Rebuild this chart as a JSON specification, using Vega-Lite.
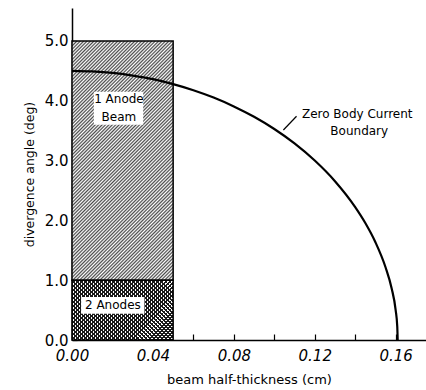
{
"$schema":"https://vega.github.io/schema/vega-lite/v6.json",
"width":354,"height":332,"autosize":"none",
"padding":{"left":72,"top":8,"right":0,"bottom":50},
"config":{"view":{"stroke":null},"font":"DejaVu Sans","axis":{"grid":false,"domainColor":"#000","domainWidth":1.5,"tickColor":"#000","tickWidth":1.2,"labelColor":"#000","titleColor":"#000","titleFontWeight":"normal"}},
"datasets":{
"regions":[{"region":"1 Anode Beam","x0":0,"x1":0.05,"y0":1,"y1":5},{"region":"2 Anodes","x0":0,"x1":0.05,"y0":0,"y1":1}],
"curve":[{"x":0,"y":4.5},{"x":0.01,"y":4.49},{"x":0.02,"y":4.465},{"x":0.03,"y":4.42},{"x":0.04,"y":4.36},{"x":0.05,"y":4.278},{"x":0.06,"y":4.176},{"x":0.07,"y":4.053},{"x":0.08,"y":3.905},{"x":0.09,"y":3.731},{"x":0.1,"y":3.527},{"x":0.11,"y":3.286},{"x":0.12,"y":3.0},{"x":0.13,"y":2.655},{"x":0.14,"y":2.222},{"x":0.145,"y":1.956},{"x":0.15,"y":1.635},{"x":0.155,"y":1.216},{"x":0.158,"y":0.866},{"x":0.16,"y":0.501},{"x":0.1608,"y":0.22},{"x":0.161,"y":0}],
"boxes":[{"x0":0.0108,"x1":0.0352,"y0":3.6,"y1":4.15},{"x0":0.0045,"x1":0.0358,"y0":0.44,"y1":0.72}],
"labels":[{"x":0.0232,"y":4.03,"text":"1 Anode"},{"x":0.0232,"y":3.73,"text":"Beam"},{"x":0.0202,"y":0.58,"text":"2 Anodes"},{"x":0.141,"y":3.78,"text":"Zero Body Current"},{"x":0.142,"y":3.49,"text":"Boundary"}],
"pointer":[{"x0":0.111,"y0":3.74,"x1":0.1045,"y1":3.51}]
},
"layer":[
{"data":{"name":"regions"},"transform":[{"filter":"datum.region=='1 Anode Beam'"}],
"mark":{"type":"rect","stroke":"#000","strokeWidth":1.5,"fill":{"gradient":"linear","x1":0,"y1":0,"x2":0.51,"y2":1.207,"stops":[
{"offset":0,"color":"#fff"},{"offset":0.005,"color":"#4a4a4a"},{"offset":0.01,"color":"#fff"},{"offset":0.015,"color":"#4a4a4a"},{"offset":0.02,"color":"#fff"},{"offset":0.025,"color":"#4a4a4a"},{"offset":0.03,"color":"#fff"},{"offset":0.035,"color":"#4a4a4a"},{"offset":0.04,"color":"#fff"},{"offset":0.045,"color":"#4a4a4a"},
{"offset":0.05,"color":"#fff"},{"offset":0.055,"color":"#4a4a4a"},{"offset":0.06,"color":"#fff"},{"offset":0.065,"color":"#4a4a4a"},{"offset":0.07,"color":"#fff"},{"offset":0.075,"color":"#4a4a4a"},{"offset":0.08,"color":"#fff"},{"offset":0.085,"color":"#4a4a4a"},{"offset":0.09,"color":"#fff"},{"offset":0.095,"color":"#4a4a4a"},
{"offset":0.1,"color":"#fff"},{"offset":0.105,"color":"#4a4a4a"},{"offset":0.11,"color":"#fff"},{"offset":0.115,"color":"#4a4a4a"},{"offset":0.12,"color":"#fff"},{"offset":0.125,"color":"#4a4a4a"},{"offset":0.13,"color":"#fff"},{"offset":0.135,"color":"#4a4a4a"},{"offset":0.14,"color":"#fff"},{"offset":0.145,"color":"#4a4a4a"},
{"offset":0.15,"color":"#fff"},{"offset":0.155,"color":"#4a4a4a"},{"offset":0.16,"color":"#fff"},{"offset":0.165,"color":"#4a4a4a"},{"offset":0.17,"color":"#fff"},{"offset":0.175,"color":"#4a4a4a"},{"offset":0.18,"color":"#fff"},{"offset":0.185,"color":"#4a4a4a"},{"offset":0.19,"color":"#fff"},{"offset":0.195,"color":"#4a4a4a"},
{"offset":0.2,"color":"#fff"},{"offset":0.205,"color":"#4a4a4a"},{"offset":0.21,"color":"#fff"},{"offset":0.215,"color":"#4a4a4a"},{"offset":0.22,"color":"#fff"},{"offset":0.225,"color":"#4a4a4a"},{"offset":0.23,"color":"#fff"},{"offset":0.235,"color":"#4a4a4a"},{"offset":0.24,"color":"#fff"},{"offset":0.245,"color":"#4a4a4a"},
{"offset":0.25,"color":"#fff"},{"offset":0.255,"color":"#4a4a4a"},{"offset":0.26,"color":"#fff"},{"offset":0.265,"color":"#4a4a4a"},{"offset":0.27,"color":"#fff"},{"offset":0.275,"color":"#4a4a4a"},{"offset":0.28,"color":"#fff"},{"offset":0.285,"color":"#4a4a4a"},{"offset":0.29,"color":"#fff"},{"offset":0.295,"color":"#4a4a4a"},
{"offset":0.3,"color":"#fff"},{"offset":0.305,"color":"#4a4a4a"},{"offset":0.31,"color":"#fff"},{"offset":0.315,"color":"#4a4a4a"},{"offset":0.32,"color":"#fff"},{"offset":0.325,"color":"#4a4a4a"},{"offset":0.33,"color":"#fff"},{"offset":0.335,"color":"#4a4a4a"},{"offset":0.34,"color":"#fff"},{"offset":0.345,"color":"#4a4a4a"},
{"offset":0.35,"color":"#fff"},{"offset":0.355,"color":"#4a4a4a"},{"offset":0.36,"color":"#fff"},{"offset":0.365,"color":"#4a4a4a"},{"offset":0.37,"color":"#fff"},{"offset":0.375,"color":"#4a4a4a"},{"offset":0.38,"color":"#fff"},{"offset":0.385,"color":"#4a4a4a"},{"offset":0.39,"color":"#fff"},{"offset":0.395,"color":"#4a4a4a"},
{"offset":0.4,"color":"#fff"},{"offset":0.405,"color":"#4a4a4a"},{"offset":0.41,"color":"#fff"},{"offset":0.415,"color":"#4a4a4a"},{"offset":0.42,"color":"#fff"},{"offset":0.425,"color":"#4a4a4a"},{"offset":0.43,"color":"#fff"},{"offset":0.435,"color":"#4a4a4a"},{"offset":0.44,"color":"#fff"},{"offset":0.445,"color":"#4a4a4a"},
{"offset":0.45,"color":"#fff"},{"offset":0.455,"color":"#4a4a4a"},{"offset":0.46,"color":"#fff"},{"offset":0.465,"color":"#4a4a4a"},{"offset":0.47,"color":"#fff"},{"offset":0.475,"color":"#4a4a4a"},{"offset":0.48,"color":"#fff"},{"offset":0.485,"color":"#4a4a4a"},{"offset":0.49,"color":"#fff"},{"offset":0.495,"color":"#4a4a4a"},
{"offset":0.5,"color":"#fff"},{"offset":0.505,"color":"#4a4a4a"},{"offset":0.51,"color":"#fff"},{"offset":0.515,"color":"#4a4a4a"},{"offset":0.52,"color":"#fff"},{"offset":0.525,"color":"#4a4a4a"},{"offset":0.53,"color":"#fff"},{"offset":0.535,"color":"#4a4a4a"},{"offset":0.54,"color":"#fff"},{"offset":0.545,"color":"#4a4a4a"},
{"offset":0.55,"color":"#fff"},{"offset":0.555,"color":"#4a4a4a"},{"offset":0.56,"color":"#fff"},{"offset":0.565,"color":"#4a4a4a"},{"offset":0.57,"color":"#fff"},{"offset":0.575,"color":"#4a4a4a"},{"offset":0.58,"color":"#fff"},{"offset":0.585,"color":"#4a4a4a"},{"offset":0.59,"color":"#fff"},{"offset":0.595,"color":"#4a4a4a"},
{"offset":0.6,"color":"#fff"},{"offset":0.605,"color":"#4a4a4a"},{"offset":0.61,"color":"#fff"},{"offset":0.615,"color":"#4a4a4a"},{"offset":0.62,"color":"#fff"},{"offset":0.625,"color":"#4a4a4a"},{"offset":0.63,"color":"#fff"},{"offset":0.635,"color":"#4a4a4a"},{"offset":0.64,"color":"#fff"},{"offset":0.645,"color":"#4a4a4a"},
{"offset":0.65,"color":"#fff"},{"offset":0.655,"color":"#4a4a4a"},{"offset":0.66,"color":"#fff"},{"offset":0.665,"color":"#4a4a4a"},{"offset":0.67,"color":"#fff"},{"offset":0.675,"color":"#4a4a4a"},{"offset":0.68,"color":"#fff"},{"offset":0.685,"color":"#4a4a4a"},{"offset":0.69,"color":"#fff"},{"offset":0.695,"color":"#4a4a4a"},
{"offset":0.7,"color":"#fff"},{"offset":0.705,"color":"#4a4a4a"},{"offset":0.71,"color":"#fff"},{"offset":0.715,"color":"#4a4a4a"},{"offset":0.72,"color":"#fff"},{"offset":0.725,"color":"#4a4a4a"},{"offset":0.73,"color":"#fff"},{"offset":0.735,"color":"#4a4a4a"},{"offset":0.74,"color":"#fff"},{"offset":0.745,"color":"#4a4a4a"},
{"offset":0.75,"color":"#fff"},{"offset":0.755,"color":"#4a4a4a"},{"offset":0.76,"color":"#fff"},{"offset":0.765,"color":"#4a4a4a"},{"offset":0.77,"color":"#fff"},{"offset":0.775,"color":"#4a4a4a"},{"offset":0.78,"color":"#fff"},{"offset":0.785,"color":"#4a4a4a"},{"offset":0.79,"color":"#fff"},{"offset":0.795,"color":"#4a4a4a"},
{"offset":0.8,"color":"#fff"},{"offset":0.805,"color":"#4a4a4a"},{"offset":0.81,"color":"#fff"},{"offset":0.815,"color":"#4a4a4a"},{"offset":0.82,"color":"#fff"},{"offset":0.825,"color":"#4a4a4a"},{"offset":0.83,"color":"#fff"},{"offset":0.835,"color":"#4a4a4a"},{"offset":0.84,"color":"#fff"},{"offset":0.845,"color":"#4a4a4a"},
{"offset":0.85,"color":"#fff"},{"offset":0.855,"color":"#4a4a4a"},{"offset":0.86,"color":"#fff"},{"offset":0.865,"color":"#4a4a4a"},{"offset":0.87,"color":"#fff"},{"offset":0.875,"color":"#4a4a4a"},{"offset":0.88,"color":"#fff"},{"offset":0.885,"color":"#4a4a4a"},{"offset":0.89,"color":"#fff"},{"offset":0.895,"color":"#4a4a4a"},
{"offset":0.9,"color":"#fff"},{"offset":0.905,"color":"#4a4a4a"},{"offset":0.91,"color":"#fff"},{"offset":0.915,"color":"#4a4a4a"},{"offset":0.92,"color":"#fff"},{"offset":0.925,"color":"#4a4a4a"},{"offset":0.93,"color":"#fff"},{"offset":0.935,"color":"#4a4a4a"},{"offset":0.94,"color":"#fff"},{"offset":0.945,"color":"#4a4a4a"},
{"offset":0.95,"color":"#fff"},{"offset":0.955,"color":"#4a4a4a"},{"offset":0.96,"color":"#fff"},{"offset":0.965,"color":"#4a4a4a"},{"offset":0.97,"color":"#fff"},{"offset":0.975,"color":"#4a4a4a"},{"offset":0.98,"color":"#fff"},{"offset":0.985,"color":"#4a4a4a"},{"offset":0.99,"color":"#fff"},{"offset":0.995,"color":"#4a4a4a"},
{"offset":1,"color":"#fff"}
]}},
"encoding":{
"x":{"field":"x0","type":"quantitative","scale":{"domain":[0,0.175],"nice":false,"zero":false},"axis":{"title":"beam half-thickness (cm)","titleFontSize":13,"titlePadding":10,"values":[0,0.02,0.04,0.06,0.08,0.1,0.12,0.14,0.16],"labelExpr":"round(datum.value*100)%4==0 ? format(datum.value,'.2f') : ''","labelFontSize":15,"labelFontStyle":"italic","tickSize":-6,"labelPadding":14,"labelFlush":false}},
"x2":{"field":"x1"},
"y":{"field":"y0","type":"quantitative","scale":{"domain":[0,5.55],"nice":false},"axis":{"title":"divergence angle (deg)","titleFontSize":12.5,"titlePadding":8,"values":[0,0.5,1,1.5,2,2.5,3,3.5,4,4.5,5],"labelExpr":"datum.value%1==0 ? format(datum.value,'.1f') : ''","labelFontSize":15,"tickSize":-5,"labelPadding":9,"labelFlush":false}},
"y2":{"field":"y1"}}},
{"data":{"name":"regions"},"transform":[{"filter":"datum.region=='2 Anodes'"}],
"mark":{"type":"rect","fill":{"gradient":"linear","x1":0,"y1":0,"x2":1.179,"y2":0.698,"stops":[
{"offset":0,"color":"#fff"},{"offset":0.013,"color":"#fff"},{"offset":0.013,"color":"#1a1a1a"},{"offset":0.025,"color":"#1a1a1a"},
{"offset":0.025,"color":"#fff"},{"offset":0.038,"color":"#fff"},{"offset":0.038,"color":"#1a1a1a"},{"offset":0.05,"color":"#1a1a1a"},
{"offset":0.05,"color":"#fff"},{"offset":0.063,"color":"#fff"},{"offset":0.063,"color":"#1a1a1a"},{"offset":0.075,"color":"#1a1a1a"},
{"offset":0.075,"color":"#fff"},{"offset":0.088,"color":"#fff"},{"offset":0.088,"color":"#1a1a1a"},{"offset":0.1,"color":"#1a1a1a"},
{"offset":0.1,"color":"#fff"},{"offset":0.113,"color":"#fff"},{"offset":0.113,"color":"#1a1a1a"},{"offset":0.125,"color":"#1a1a1a"},
{"offset":0.125,"color":"#fff"},{"offset":0.138,"color":"#fff"},{"offset":0.138,"color":"#1a1a1a"},{"offset":0.15,"color":"#1a1a1a"},
{"offset":0.15,"color":"#fff"},{"offset":0.163,"color":"#fff"},{"offset":0.163,"color":"#1a1a1a"},{"offset":0.175,"color":"#1a1a1a"},
{"offset":0.175,"color":"#fff"},{"offset":0.188,"color":"#fff"},{"offset":0.188,"color":"#1a1a1a"},{"offset":0.2,"color":"#1a1a1a"},
{"offset":0.2,"color":"#fff"},{"offset":0.213,"color":"#fff"},{"offset":0.213,"color":"#1a1a1a"},{"offset":0.225,"color":"#1a1a1a"},
{"offset":0.225,"color":"#fff"},{"offset":0.238,"color":"#fff"},{"offset":0.238,"color":"#1a1a1a"},{"offset":0.25,"color":"#1a1a1a"},
{"offset":0.25,"color":"#fff"},{"offset":0.263,"color":"#fff"},{"offset":0.263,"color":"#1a1a1a"},{"offset":0.275,"color":"#1a1a1a"},
{"offset":0.275,"color":"#fff"},{"offset":0.288,"color":"#fff"},{"offset":0.288,"color":"#1a1a1a"},{"offset":0.3,"color":"#1a1a1a"},
{"offset":0.3,"color":"#fff"},{"offset":0.313,"color":"#fff"},{"offset":0.313,"color":"#1a1a1a"},{"offset":0.325,"color":"#1a1a1a"},
{"offset":0.325,"color":"#fff"},{"offset":0.338,"color":"#fff"},{"offset":0.338,"color":"#1a1a1a"},{"offset":0.35,"color":"#1a1a1a"},
{"offset":0.35,"color":"#fff"},{"offset":0.363,"color":"#fff"},{"offset":0.363,"color":"#1a1a1a"},{"offset":0.375,"color":"#1a1a1a"},
{"offset":0.375,"color":"#fff"},{"offset":0.388,"color":"#fff"},{"offset":0.388,"color":"#1a1a1a"},{"offset":0.4,"color":"#1a1a1a"},
{"offset":0.4,"color":"#fff"},{"offset":0.413,"color":"#fff"},{"offset":0.413,"color":"#1a1a1a"},{"offset":0.425,"color":"#1a1a1a"},
{"offset":0.425,"color":"#fff"},{"offset":0.438,"color":"#fff"},{"offset":0.438,"color":"#1a1a1a"},{"offset":0.45,"color":"#1a1a1a"},
{"offset":0.45,"color":"#fff"},{"offset":0.463,"color":"#fff"},{"offset":0.463,"color":"#1a1a1a"},{"offset":0.475,"color":"#1a1a1a"},
{"offset":0.475,"color":"#fff"},{"offset":0.488,"color":"#fff"},{"offset":0.488,"color":"#1a1a1a"},{"offset":0.5,"color":"#1a1a1a"},
{"offset":0.5,"color":"#fff"},{"offset":0.513,"color":"#fff"},{"offset":0.513,"color":"#1a1a1a"},{"offset":0.525,"color":"#1a1a1a"},
{"offset":0.525,"color":"#fff"},{"offset":0.538,"color":"#fff"},{"offset":0.538,"color":"#1a1a1a"},{"offset":0.55,"color":"#1a1a1a"},
{"offset":0.55,"color":"#fff"},{"offset":0.563,"color":"#fff"},{"offset":0.563,"color":"#1a1a1a"},{"offset":0.575,"color":"#1a1a1a"},
{"offset":0.575,"color":"#fff"},{"offset":0.588,"color":"#fff"},{"offset":0.588,"color":"#1a1a1a"},{"offset":0.6,"color":"#1a1a1a"},
{"offset":0.6,"color":"#fff"},{"offset":0.613,"color":"#fff"},{"offset":0.613,"color":"#1a1a1a"},{"offset":0.625,"color":"#1a1a1a"},
{"offset":0.625,"color":"#fff"},{"offset":0.638,"color":"#fff"},{"offset":0.638,"color":"#1a1a1a"},{"offset":0.65,"color":"#1a1a1a"},
{"offset":0.65,"color":"#fff"},{"offset":0.663,"color":"#fff"},{"offset":0.663,"color":"#1a1a1a"},{"offset":0.675,"color":"#1a1a1a"},
{"offset":0.675,"color":"#fff"},{"offset":0.688,"color":"#fff"},{"offset":0.688,"color":"#1a1a1a"},{"offset":0.7,"color":"#1a1a1a"},
{"offset":0.7,"color":"#fff"},{"offset":0.713,"color":"#fff"},{"offset":0.713,"color":"#1a1a1a"},{"offset":0.725,"color":"#1a1a1a"},
{"offset":0.725,"color":"#fff"},{"offset":0.738,"color":"#fff"},{"offset":0.738,"color":"#1a1a1a"},{"offset":0.75,"color":"#1a1a1a"},
{"offset":0.75,"color":"#fff"},{"offset":0.763,"color":"#fff"},{"offset":0.763,"color":"#1a1a1a"},{"offset":0.775,"color":"#1a1a1a"},
{"offset":0.775,"color":"#fff"},{"offset":0.788,"color":"#fff"},{"offset":0.788,"color":"#1a1a1a"},{"offset":0.8,"color":"#1a1a1a"},
{"offset":0.8,"color":"#fff"},{"offset":0.813,"color":"#fff"},{"offset":0.813,"color":"#1a1a1a"},{"offset":0.825,"color":"#1a1a1a"},
{"offset":0.825,"color":"#fff"},{"offset":0.838,"color":"#fff"},{"offset":0.838,"color":"#1a1a1a"},{"offset":0.85,"color":"#1a1a1a"},
{"offset":0.85,"color":"#fff"},{"offset":0.863,"color":"#fff"},{"offset":0.863,"color":"#1a1a1a"},{"offset":0.875,"color":"#1a1a1a"},
{"offset":0.875,"color":"#fff"},{"offset":0.888,"color":"#fff"},{"offset":0.888,"color":"#1a1a1a"},{"offset":0.9,"color":"#1a1a1a"},
{"offset":0.9,"color":"#fff"},{"offset":0.913,"color":"#fff"},{"offset":0.913,"color":"#1a1a1a"},{"offset":0.925,"color":"#1a1a1a"},
{"offset":0.925,"color":"#fff"},{"offset":0.938,"color":"#fff"},{"offset":0.938,"color":"#1a1a1a"},{"offset":0.95,"color":"#1a1a1a"},
{"offset":0.95,"color":"#fff"},{"offset":0.963,"color":"#fff"},{"offset":0.963,"color":"#1a1a1a"},{"offset":0.975,"color":"#1a1a1a"},
{"offset":0.975,"color":"#fff"},{"offset":0.988,"color":"#fff"},{"offset":0.988,"color":"#1a1a1a"},{"offset":1,"color":"#1a1a1a"}
]}},
"encoding":{"x":{"field":"x0","type":"quantitative"},"x2":{"field":"x1"},"y":{"field":"y0","type":"quantitative"},"y2":{"field":"y1"}}},
{"data":{"name":"regions"},"transform":[{"filter":"datum.region=='2 Anodes'"}],
"mark":{"type":"rect","stroke":"#000","strokeWidth":1.5,"fill":{"gradient":"linear","x1":0,"y1":1,"x2":1.179,"y2":0.302,"stops":[
{"offset":0,"color":"rgba(0,0,0,0)"},{"offset":0.013,"color":"rgba(0,0,0,0)"},{"offset":0.013,"color":"#1a1a1a"},{"offset":0.025,"color":"#1a1a1a"},
{"offset":0.025,"color":"rgba(0,0,0,0)"},{"offset":0.038,"color":"rgba(0,0,0,0)"},{"offset":0.038,"color":"#1a1a1a"},{"offset":0.05,"color":"#1a1a1a"},
{"offset":0.05,"color":"rgba(0,0,0,0)"},{"offset":0.063,"color":"rgba(0,0,0,0)"},{"offset":0.063,"color":"#1a1a1a"},{"offset":0.075,"color":"#1a1a1a"},
{"offset":0.075,"color":"rgba(0,0,0,0)"},{"offset":0.088,"color":"rgba(0,0,0,0)"},{"offset":0.088,"color":"#1a1a1a"},{"offset":0.1,"color":"#1a1a1a"},
{"offset":0.1,"color":"rgba(0,0,0,0)"},{"offset":0.113,"color":"rgba(0,0,0,0)"},{"offset":0.113,"color":"#1a1a1a"},{"offset":0.125,"color":"#1a1a1a"},
{"offset":0.125,"color":"rgba(0,0,0,0)"},{"offset":0.138,"color":"rgba(0,0,0,0)"},{"offset":0.138,"color":"#1a1a1a"},{"offset":0.15,"color":"#1a1a1a"},
{"offset":0.15,"color":"rgba(0,0,0,0)"},{"offset":0.163,"color":"rgba(0,0,0,0)"},{"offset":0.163,"color":"#1a1a1a"},{"offset":0.175,"color":"#1a1a1a"},
{"offset":0.175,"color":"rgba(0,0,0,0)"},{"offset":0.188,"color":"rgba(0,0,0,0)"},{"offset":0.188,"color":"#1a1a1a"},{"offset":0.2,"color":"#1a1a1a"},
{"offset":0.2,"color":"rgba(0,0,0,0)"},{"offset":0.213,"color":"rgba(0,0,0,0)"},{"offset":0.213,"color":"#1a1a1a"},{"offset":0.225,"color":"#1a1a1a"},
{"offset":0.225,"color":"rgba(0,0,0,0)"},{"offset":0.238,"color":"rgba(0,0,0,0)"},{"offset":0.238,"color":"#1a1a1a"},{"offset":0.25,"color":"#1a1a1a"},
{"offset":0.25,"color":"rgba(0,0,0,0)"},{"offset":0.263,"color":"rgba(0,0,0,0)"},{"offset":0.263,"color":"#1a1a1a"},{"offset":0.275,"color":"#1a1a1a"},
{"offset":0.275,"color":"rgba(0,0,0,0)"},{"offset":0.288,"color":"rgba(0,0,0,0)"},{"offset":0.288,"color":"#1a1a1a"},{"offset":0.3,"color":"#1a1a1a"},
{"offset":0.3,"color":"rgba(0,0,0,0)"},{"offset":0.313,"color":"rgba(0,0,0,0)"},{"offset":0.313,"color":"#1a1a1a"},{"offset":0.325,"color":"#1a1a1a"},
{"offset":0.325,"color":"rgba(0,0,0,0)"},{"offset":0.338,"color":"rgba(0,0,0,0)"},{"offset":0.338,"color":"#1a1a1a"},{"offset":0.35,"color":"#1a1a1a"},
{"offset":0.35,"color":"rgba(0,0,0,0)"},{"offset":0.363,"color":"rgba(0,0,0,0)"},{"offset":0.363,"color":"#1a1a1a"},{"offset":0.375,"color":"#1a1a1a"},
{"offset":0.375,"color":"rgba(0,0,0,0)"},{"offset":0.388,"color":"rgba(0,0,0,0)"},{"offset":0.388,"color":"#1a1a1a"},{"offset":0.4,"color":"#1a1a1a"},
{"offset":0.4,"color":"rgba(0,0,0,0)"},{"offset":0.413,"color":"rgba(0,0,0,0)"},{"offset":0.413,"color":"#1a1a1a"},{"offset":0.425,"color":"#1a1a1a"},
{"offset":0.425,"color":"rgba(0,0,0,0)"},{"offset":0.438,"color":"rgba(0,0,0,0)"},{"offset":0.438,"color":"#1a1a1a"},{"offset":0.45,"color":"#1a1a1a"},
{"offset":0.45,"color":"rgba(0,0,0,0)"},{"offset":0.463,"color":"rgba(0,0,0,0)"},{"offset":0.463,"color":"#1a1a1a"},{"offset":0.475,"color":"#1a1a1a"},
{"offset":0.475,"color":"rgba(0,0,0,0)"},{"offset":0.488,"color":"rgba(0,0,0,0)"},{"offset":0.488,"color":"#1a1a1a"},{"offset":0.5,"color":"#1a1a1a"},
{"offset":0.5,"color":"rgba(0,0,0,0)"},{"offset":0.513,"color":"rgba(0,0,0,0)"},{"offset":0.513,"color":"#1a1a1a"},{"offset":0.525,"color":"#1a1a1a"},
{"offset":0.525,"color":"rgba(0,0,0,0)"},{"offset":0.538,"color":"rgba(0,0,0,0)"},{"offset":0.538,"color":"#1a1a1a"},{"offset":0.55,"color":"#1a1a1a"},
{"offset":0.55,"color":"rgba(0,0,0,0)"},{"offset":0.563,"color":"rgba(0,0,0,0)"},{"offset":0.563,"color":"#1a1a1a"},{"offset":0.575,"color":"#1a1a1a"},
{"offset":0.575,"color":"rgba(0,0,0,0)"},{"offset":0.588,"color":"rgba(0,0,0,0)"},{"offset":0.588,"color":"#1a1a1a"},{"offset":0.6,"color":"#1a1a1a"},
{"offset":0.6,"color":"rgba(0,0,0,0)"},{"offset":0.613,"color":"rgba(0,0,0,0)"},{"offset":0.613,"color":"#1a1a1a"},{"offset":0.625,"color":"#1a1a1a"},
{"offset":0.625,"color":"rgba(0,0,0,0)"},{"offset":0.638,"color":"rgba(0,0,0,0)"},{"offset":0.638,"color":"#1a1a1a"},{"offset":0.65,"color":"#1a1a1a"},
{"offset":0.65,"color":"rgba(0,0,0,0)"},{"offset":0.663,"color":"rgba(0,0,0,0)"},{"offset":0.663,"color":"#1a1a1a"},{"offset":0.675,"color":"#1a1a1a"},
{"offset":0.675,"color":"rgba(0,0,0,0)"},{"offset":0.688,"color":"rgba(0,0,0,0)"},{"offset":0.688,"color":"#1a1a1a"},{"offset":0.7,"color":"#1a1a1a"},
{"offset":0.7,"color":"rgba(0,0,0,0)"},{"offset":0.713,"color":"rgba(0,0,0,0)"},{"offset":0.713,"color":"#1a1a1a"},{"offset":0.725,"color":"#1a1a1a"},
{"offset":0.725,"color":"rgba(0,0,0,0)"},{"offset":0.738,"color":"rgba(0,0,0,0)"},{"offset":0.738,"color":"#1a1a1a"},{"offset":0.75,"color":"#1a1a1a"},
{"offset":0.75,"color":"rgba(0,0,0,0)"},{"offset":0.763,"color":"rgba(0,0,0,0)"},{"offset":0.763,"color":"#1a1a1a"},{"offset":0.775,"color":"#1a1a1a"},
{"offset":0.775,"color":"rgba(0,0,0,0)"},{"offset":0.788,"color":"rgba(0,0,0,0)"},{"offset":0.788,"color":"#1a1a1a"},{"offset":0.8,"color":"#1a1a1a"},
{"offset":0.8,"color":"rgba(0,0,0,0)"},{"offset":0.813,"color":"rgba(0,0,0,0)"},{"offset":0.813,"color":"#1a1a1a"},{"offset":0.825,"color":"#1a1a1a"},
{"offset":0.825,"color":"rgba(0,0,0,0)"},{"offset":0.838,"color":"rgba(0,0,0,0)"},{"offset":0.838,"color":"#1a1a1a"},{"offset":0.85,"color":"#1a1a1a"},
{"offset":0.85,"color":"rgba(0,0,0,0)"},{"offset":0.863,"color":"rgba(0,0,0,0)"},{"offset":0.863,"color":"#1a1a1a"},{"offset":0.875,"color":"#1a1a1a"},
{"offset":0.875,"color":"rgba(0,0,0,0)"},{"offset":0.888,"color":"rgba(0,0,0,0)"},{"offset":0.888,"color":"#1a1a1a"},{"offset":0.9,"color":"#1a1a1a"},
{"offset":0.9,"color":"rgba(0,0,0,0)"},{"offset":0.913,"color":"rgba(0,0,0,0)"},{"offset":0.913,"color":"#1a1a1a"},{"offset":0.925,"color":"#1a1a1a"},
{"offset":0.925,"color":"rgba(0,0,0,0)"},{"offset":0.938,"color":"rgba(0,0,0,0)"},{"offset":0.938,"color":"#1a1a1a"},{"offset":0.95,"color":"#1a1a1a"},
{"offset":0.95,"color":"rgba(0,0,0,0)"},{"offset":0.963,"color":"rgba(0,0,0,0)"},{"offset":0.963,"color":"#1a1a1a"},{"offset":0.975,"color":"#1a1a1a"},
{"offset":0.975,"color":"rgba(0,0,0,0)"},{"offset":0.988,"color":"rgba(0,0,0,0)"},{"offset":0.988,"color":"#1a1a1a"},{"offset":1,"color":"#1a1a1a"}
]}},
"encoding":{"x":{"field":"x0","type":"quantitative"},"x2":{"field":"x1"},"y":{"field":"y0","type":"quantitative"},"y2":{"field":"y1"}}},
{"data":{"name":"curve"},"mark":{"type":"line","color":"#000","strokeWidth":2.2,"interpolate":"monotone"},
"encoding":{"x":{"field":"x","type":"quantitative"},"y":{"field":"y","type":"quantitative"},"order":{"field":"x"}}},
{"data":{"name":"boxes"},"mark":{"type":"rect","fill":"#fff"},
"encoding":{"x":{"field":"x0","type":"quantitative"},"x2":{"field":"x1"},"y":{"field":"y0","type":"quantitative"},"y2":{"field":"y1"}}},
{"data":{"name":"labels"},"mark":{"type":"text","fontSize":12,"color":"#000","align":"center","baseline":"middle"},
"encoding":{"x":{"field":"x","type":"quantitative"},"y":{"field":"y","type":"quantitative"},"text":{"field":"text"}}},
{"data":{"name":"pointer"},"mark":{"type":"rule","color":"#000","strokeWidth":1.2},
"encoding":{"x":{"field":"x0","type":"quantitative"},"y":{"field":"y0","type":"quantitative"},"x2":{"field":"x1"},"y2":{"field":"y1"}}}
]
}
